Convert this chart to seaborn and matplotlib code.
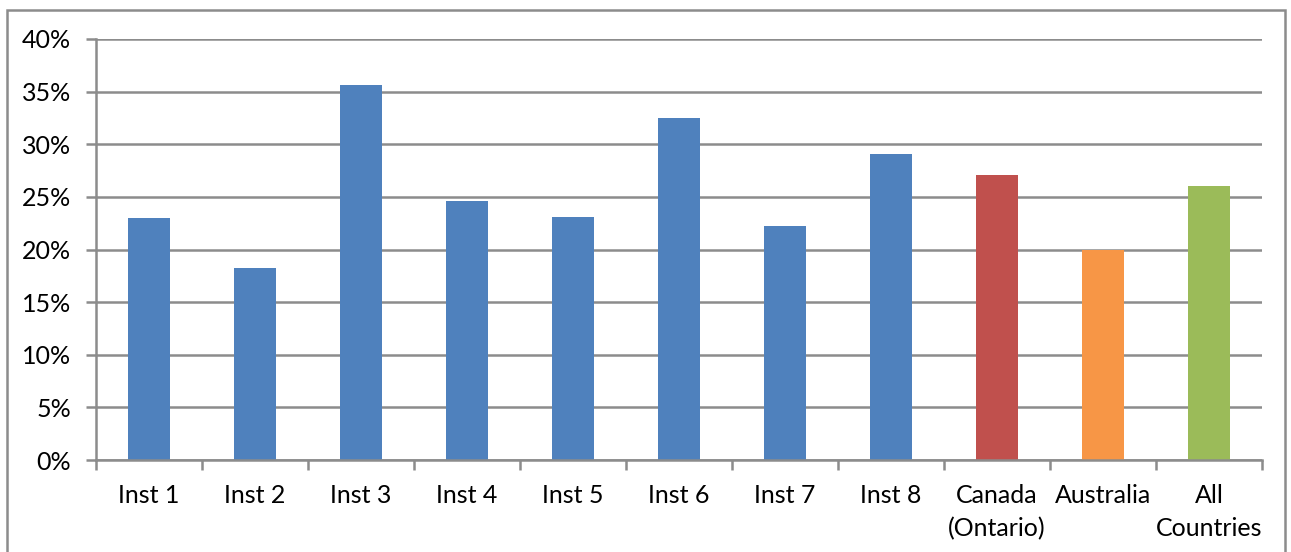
import matplotlib
matplotlib.use("Agg")
import matplotlib.pyplot as plt
from matplotlib.patches import Rectangle
from matplotlib.ticker import FixedLocator, PercentFormatter
import seaborn as sns
import pandas as pd
import numpy as np

# Share of respondents by institution and country group
categories = ["Inst 1", "Inst 2", "Inst 3", "Inst 4", "Inst 5", "Inst 6",
              "Inst 7", "Inst 8", "Canada\n(Ontario)", "Australia", "All\nCountries"]
values = [23.0, 18.2, 35.6, 24.6, 23.1, 32.5, 22.2, 29.1, 27.1, 20.0, 26.0]
bar_colors = ["#4F81BD"] * 8 + ["#C0504D", "#F79646", "#9BBB59"]
y_ticks = [0, 5, 10, 15, 20, 25, 30, 35, 40]

sns.set_theme(style="white")
plt.rcParams["font.family"] = ["Lato", "DejaVu Sans"]

df = pd.DataFrame({"category": categories, "value": values})

W, H = 1291, 552
fig = plt.figure(figsize=(W / 100, H / 100), dpi=100)
ax = fig.add_axes([96 / W, (H - 460) / H, (1262 - 96) / W, (460 - 39) / H])

sns.barplot(data=df, x="category", y="value", hue="category",
            palette=bar_colors, width=0.4, legend=False, ax=ax,
            saturation=1, edgecolor="none")

grid_c = "#8C8C8C"
ax.set_xlim(-0.5, len(categories) - 0.5)
ax.set_ylim(0, 40)
ax.yaxis.set_major_locator(FixedLocator(y_ticks))
ax.yaxis.set_major_formatter(PercentFormatter(decimals=0))
ax.grid(axis="y", color=grid_c, linewidth=1.8)
ax.set_axisbelow(True)

# x ticks at category boundaries, labels centred under bars
ax.set_xticks(np.arange(len(categories)))
ax.set_xticklabels(categories, linespacing=1.55)
ax.set_xticks(np.arange(len(categories) + 1) - 0.5, minor=True)
ax.tick_params(axis="x", which="major", length=0, pad=17, labelsize=18,
               labelcolor="black")
ax.tick_params(axis="x", which="minor", length=7, width=1.8, color=grid_c,
               direction="out", bottom=True)
ax.tick_params(axis="y", which="major", length=7, width=1.8, color=grid_c,
               direction="out", left=True, pad=11, labelsize=18,
               labelcolor="black")

for side in ["top", "right"]:
    ax.spines[side].set_visible(False)
for side in ["left", "bottom"]:
    ax.spines[side].set_color(grid_c)
    ax.spines[side].set_linewidth(1.8)

ax.set_xlabel("")
ax.set_ylabel("")

# Outer chart frame
fig.patches.append(Rectangle((7 / W, -0.02), (1285 - 7) / W, (H - 10) / H + 0.02,
                             transform=fig.transFigure, fill=False,
                             edgecolor="#8C8C8C", linewidth=1.8))

fig.savefig("out.png", dpi=100)
